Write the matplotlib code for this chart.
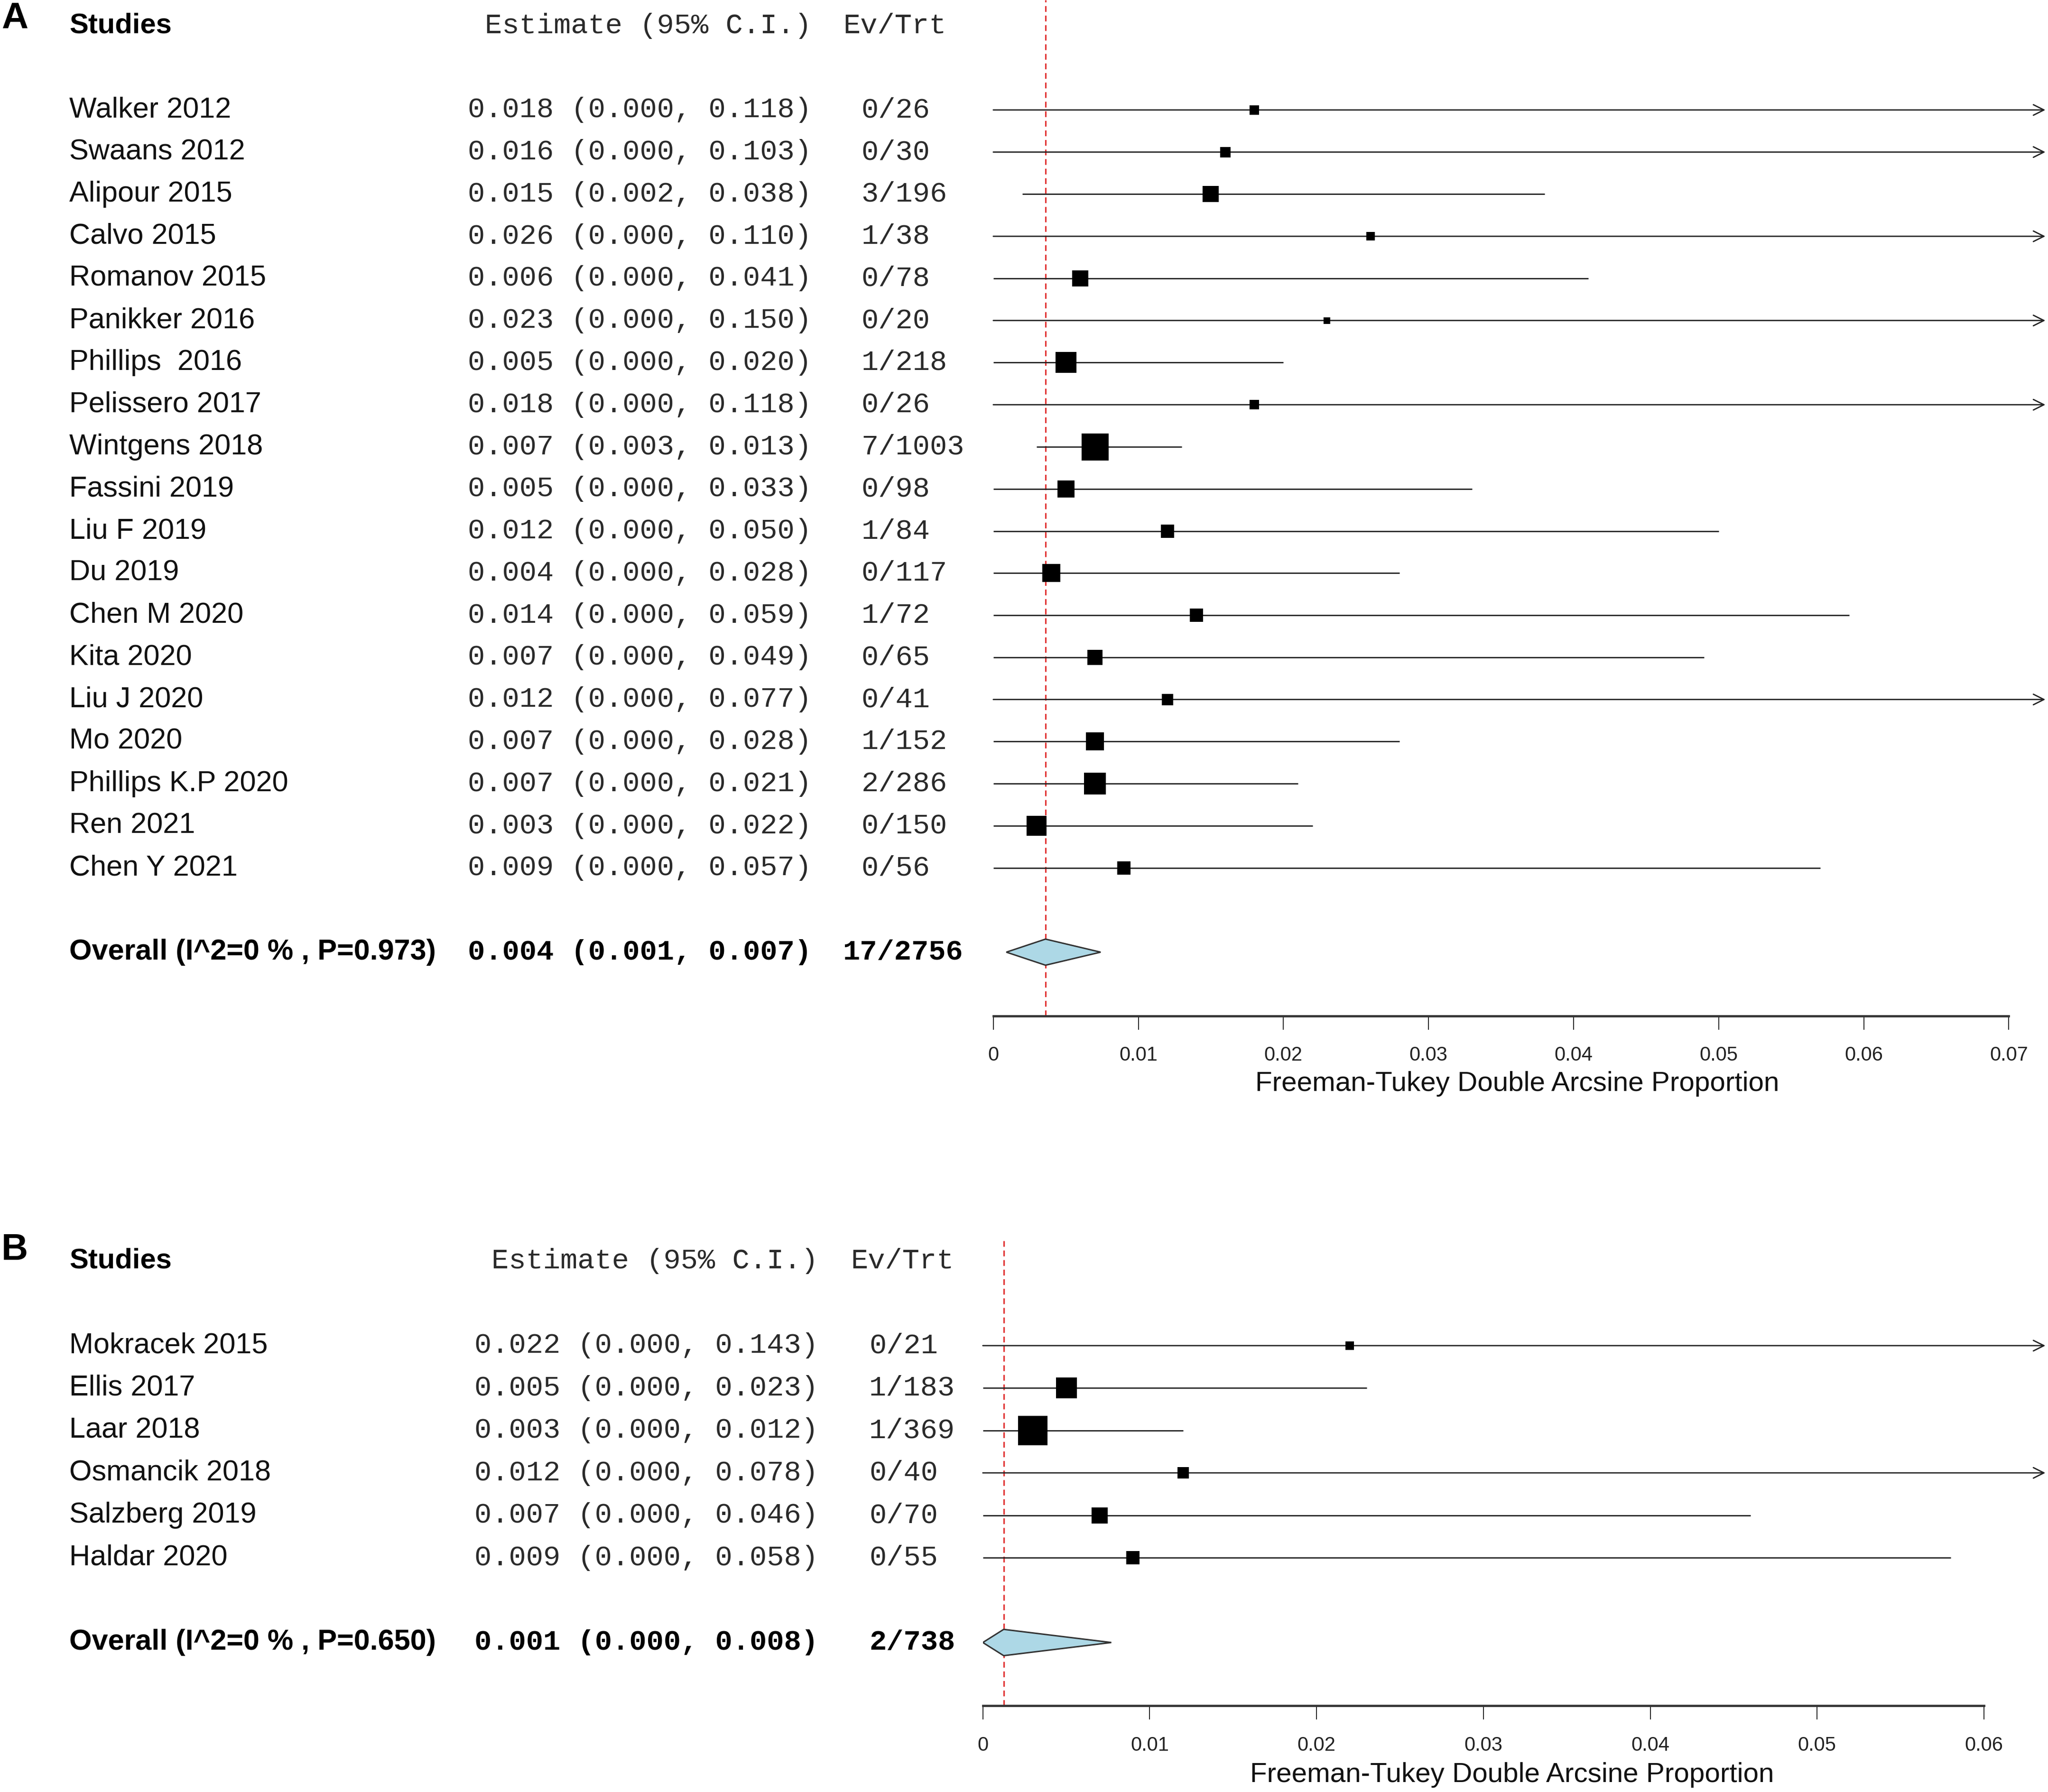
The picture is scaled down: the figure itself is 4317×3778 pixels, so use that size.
import matplotlib
matplotlib.use("Agg")
import matplotlib.pyplot as plt
from matplotlib import transforms
from matplotlib.patches import Polygon
import numpy as np

# ---------------- Data: panel A ----------------
studies_A = ["Walker 2012", "Swaans 2012", "Alipour 2015", "Calvo 2015", "Romanov 2015",
             "Panikker 2016", "Phillips  2016", "Pelissero 2017", "Wintgens 2018",
             "Fassini 2019", "Liu F 2019", "Du 2019", "Chen M 2020", "Kita 2020",
             "Liu J 2020", "Mo 2020", "Phillips K.P 2020", "Ren 2021", "Chen Y 2021"]
est_A = [0.018, 0.016, 0.015, 0.026, 0.006, 0.023, 0.005, 0.018, 0.007, 0.005,
         0.012, 0.004, 0.014, 0.007, 0.012, 0.007, 0.007, 0.003, 0.009]
lo_A = [0.000, 0.000, 0.002, 0.000, 0.000, 0.000, 0.000, 0.000, 0.003, 0.000,
        0.000, 0.000, 0.000, 0.000, 0.000, 0.000, 0.000, 0.000, 0.000]
hi_A = [0.118, 0.103, 0.038, 0.110, 0.041, 0.150, 0.020, 0.118, 0.013, 0.033,
        0.050, 0.028, 0.059, 0.049, 0.077, 0.028, 0.021, 0.022, 0.057]
events_A = ["0/26", "0/30", "3/196", "1/38", "0/78", "0/20", "1/218", "0/26", "7/1003",
            "0/98", "1/84", "0/117", "1/72", "0/65", "0/41", "1/152", "2/286", "0/150", "0/56"]
weights_A = [1.9, 2.4, 5.5, 1.4, 5.1, 1.0, 9.3, 2.0, 15.2, 5.8, 3.9, 6.5, 3.9, 4.8,
             2.7, 6.9, 9.7, 8.0, 3.9]
overall_label_A = "Overall (I^2=0 % , P=0.973)"
overall_A = (0.0036, 0.0009, 0.0074)
overall_events_A = "17/2756"
ticks_A = [0, 0.01, 0.02, 0.03, 0.04, 0.05, 0.06, 0.07]
ticklabels_A = ["0", "0.01", "0.02", "0.03", "0.04", "0.05", "0.06", "0.07"]

# ---------------- Data: panel B ----------------
studies_B = ["Mokracek 2015", "Ellis 2017", "Laar 2018", "Osmancik 2018",
             "Salzberg 2019", "Haldar 2020"]
est_B = [0.022, 0.005, 0.003, 0.012, 0.007, 0.009]
lo_B = [0.000, 0.000, 0.000, 0.000, 0.000, 0.000]
hi_B = [0.143, 0.023, 0.012, 0.078, 0.046, 0.058]
events_B = ["0/21", "1/183", "1/369", "0/40", "0/70", "0/55"]
weights_B = [3.7, 22.3, 44.3, 7.2, 13.3, 9.0]
overall_label_B = "Overall (I^2=0 % , P=0.650)"
overall_B = (0.00125, 0.0, 0.0077)
overall_events_B = "2/738"
ticks_B = [0, 0.01, 0.02, 0.03, 0.04, 0.05, 0.06]
ticklabels_B = ["0", "0.01", "0.02", "0.03", "0.04", "0.05", "0.06"]

header_est = "Estimate (95% C.I.)"
header_ev = "Ev/Trt"
xlabel = "Freeman-Tukey Double Arcsine Proportion"

# ---------------- Layout helpers ----------------
W, H = 1567.0, 1369.0
def fx(x):
    return x / W
def fy(y):
    return 1.0 - y / H

SANS = "Liberation Sans"
MONO = "Liberation Mono"
TXT = "#111111"
MTXT = "#2a2a2a"

fig = plt.figure(figsize=(43.17, 37.78), dpi=100)
fig.patch.set_facecolor("white")


def fmt_ci(e, l, h):
    return f"{e:.3f} ({l:.3f}, {h:.3f})"


def panel(letter, letter_y, studies, est, lo, hi, events, weights, ov_label, ov, ov_events,
          ticks, ticklabels, ax_left, ax_tick_end, ax_bottom, ax_top, ylim,
          est_right, ev_left, ov_ev_left, hdr_est_right, hdr_ev_left, max_side_px,
          xlab_x, xlab_y):
    x_right_edge = 1565.0
    xmax_axis = ticks[-1]
    xlim_max = xmax_axis * (x_right_edge - ax_left) / (ax_tick_end - ax_left)
    ax = fig.add_axes([fx(ax_left), fy(ax_bottom), fx(x_right_edge) - fx(ax_left),
                       fy(ax_top) - fy(ax_bottom)])
    ax.set_xlim(0, xlim_max)
    ax.set_ylim(*ylim)
    ax.patch.set_alpha(0)
    for s in ["top", "right", "left"]:
        ax.spines[s].set_visible(False)
    ax.spines["bottom"].set_bounds(ticks[0], ticks[-1])
    ax.spines["bottom"].set_linewidth(3.4)
    ax.spines["bottom"].set_color("#333333")
    ax.set_yticks([])
    ax.set_xticks(ticks)
    ax.set_xticklabels(ticklabels, fontfamily=SANS, fontsize=30, color="#222222")
    ax.tick_params(axis="x", direction="out", length=21, width=1.4, pad=25, colors="#222222")

    n = len(studies)
    rows = np.arange(n)
    trans = transforms.blended_transform_factory(fig.transFigure, ax.transData)

    # reference line at overall estimate
    ax.axvline(ov[0], color="#e03030", lw=2.2, ls=(0, (4, 2.6)), zorder=1)

    wmax = max(weights)
    for i in rows:
        e, l, h = est[i], lo[i], hi[i]
        if h > xlim_max:
            ax.annotate("", xy=(xlim_max, i), xytext=(l, i), xycoords="data",
                        arrowprops=dict(arrowstyle="->,head_length=0.4,head_width=0.2",
                                        lw=2.0, color="#222222", mutation_scale=40,
                                        shrinkA=0, shrinkB=0),
                        annotation_clip=False, zorder=2)
        else:
            ax.plot([l, h], [i, i], color="#222222", lw=2.0, solid_capstyle="butt", zorder=2)
        side_px = max_side_px * np.sqrt(weights[i] / wmax)
        ax.plot([e], [i], marker="s", ms=side_px * 0.72, color="black", mec="black",
                mew=0, zorder=3, linestyle="none")
        fig.text(fx(53), i, studies[i], transform=trans, ha="left", va="center",
                 fontfamily=SANS, fontsize=44, color=TXT)
        fig.text(fx(est_right), i, fmt_ci(e, l, h), transform=trans, ha="right",
                 va="center", fontfamily=MONO, fontsize=43.5, color=MTXT)
        fig.text(fx(ev_left), i, events[i], transform=trans, ha="left", va="center",
                 fontfamily=MONO, fontsize=43.5, color=MTXT)

    # overall row
    oy = n + 1
    e, l, h = ov
    dh = 0.31
    diamond = Polygon([(l, oy), (e, oy - dh), (h, oy), (e, oy + dh)], closed=True,
                      facecolor="#add8e6", edgecolor="#333333", lw=2.2, zorder=4)
    ax.add_patch(diamond)
    fig.text(fx(53), oy, ov_label, transform=trans, ha="left", va="center",
             fontfamily=SANS, fontsize=44, fontweight="bold", color="black")
    fig.text(fx(est_right), oy, fmt_ci(e, l, h), transform=trans, ha="right",
             va="center", fontfamily=MONO, fontsize=43.5, fontweight="bold", color="black")
    fig.text(fx(ov_ev_left), oy, ov_events, transform=trans, ha="left", va="center",
             fontfamily=MONO, fontsize=43.5, fontweight="bold", color="black")

    # header
    hy = -2
    fig.text(fx(53), hy, "Studies", transform=trans, ha="left", va="center",
             fontfamily=SANS, fontsize=43, fontweight="bold", color="black")
    fig.text(fx(hdr_est_right), hy, header_est, transform=trans, ha="right", va="center",
             fontfamily=MONO, fontsize=43.5, color=MTXT)
    fig.text(fx(hdr_ev_left), hy, header_ev, transform=trans, ha="left", va="center",
             fontfamily=MONO, fontsize=43.5, color=MTXT)

    # panel letter and x label
    fig.text(fx(1), fy(letter_y), letter, ha="left", va="center", fontfamily=SANS,
             fontsize=56, fontweight="bold", color="black")
    fig.text(fx(xlab_x), fy(xlab_y), xlabel, ha="center", va="center", fontfamily=SANS,
             fontsize=42, color=TXT)
    return ax


panel("A", 14, studies_A, est_A, lo_A, hi_A, events_A, weights_A, overall_label_A,
      overall_A, overall_events_A, ticks_A, ticklabels_A,
      ax_left=760, ax_tick_end=1537, ax_bottom=776, ax_top=0,
      ylim=((776 - 84) / 32.17, (0 - 84) / 32.17),
      est_right=621, ev_left=659, ov_ev_left=645, hdr_est_right=621, hdr_ev_left=645,
      max_side_px=57, xlab_x=1161, xlab_y=828)

panel("B", 955, studies_B, est_B, lo_B, hi_B, events_B, weights_B, overall_label_B,
      overall_B, overall_events_B, ticks_B, ticklabels_B,
      ax_left=752, ax_tick_end=1518, ax_bottom=1303, ax_top=948,
      ylim=((1303 - 1028) / 32.4, (948 - 1028) / 32.4),
      est_right=626, ev_left=665, ov_ev_left=665, hdr_est_right=626, hdr_ev_left=651,
      max_side_px=62, xlab_x=1157, xlab_y=1356)

fig.savefig("out.png", dpi=100, facecolor="white")
